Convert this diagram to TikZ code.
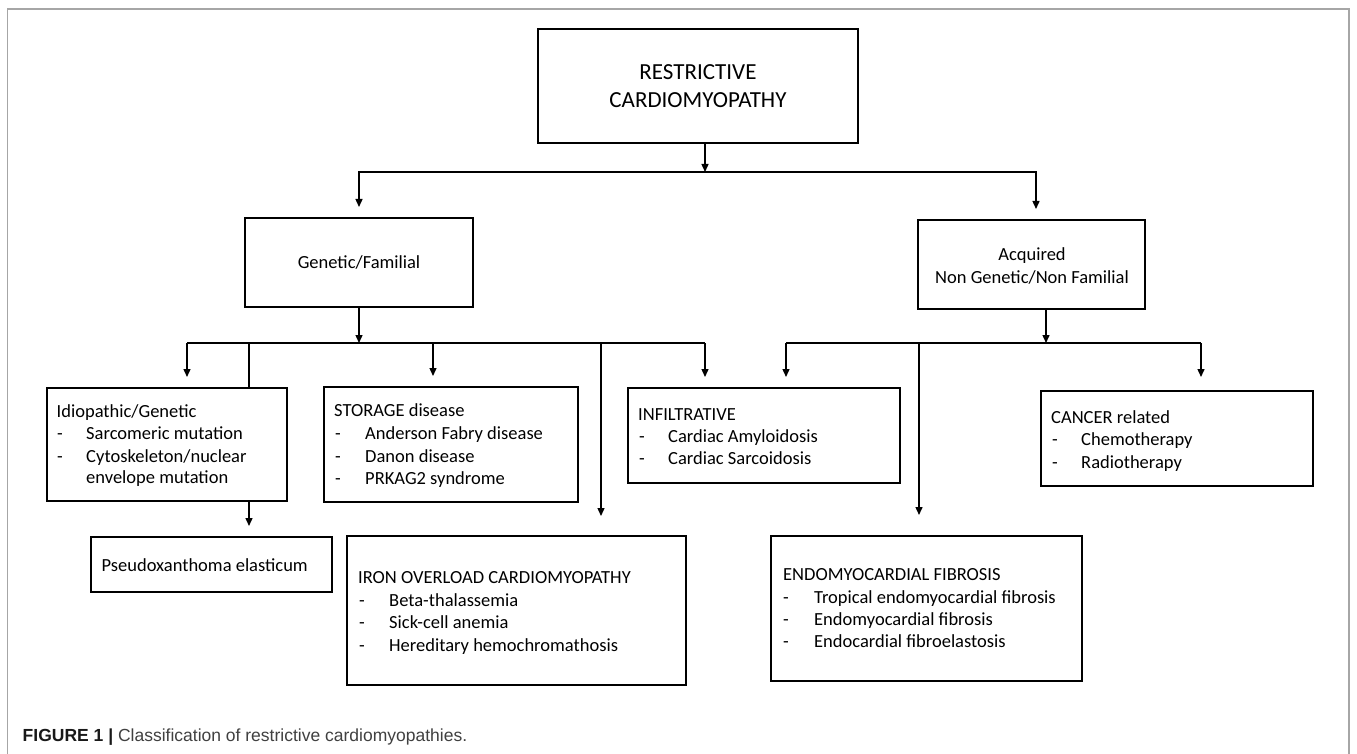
\documentclass[tikz,border=0pt]{standalone}
\usepackage{fontspec}
\setmainfont{Carlito}
\newfontfamily\capfont{Liberation Sans}
\usetikzlibrary{arrows.meta,calc}
\tikzset{
  box/.style={draw, line width=2pt, inner sep=0pt},
  conn/.style={line width=1.4pt},
  arr/.style={conn, -{Triangle[length=8pt,width=7pt]}},
  txt/.style={anchor=base west, inner sep=0pt, font=\fontsize{18.5}{22}\selectfont},
  bigtxt/.style={anchor=base, inner sep=0pt, font=\fontsize{23}{27}\selectfont},
}
\begin{document}
\begin{tikzpicture}[x=1pt,y=-1pt]
\useasboundingbox (0,0) rectangle (1357,754);
% frame
\draw[gray!70, line width=1.3pt] (7.5,754) -- (7.5,9) -- (1349,9) -- (1349,754);

% boxes
\node[box, minimum width=320pt, minimum height=114pt] (root) at (698,86) {};
\node[box, minimum width=228pt, minimum height=89pt] (gen) at (359,262.5) {};
\node[box, minimum width=227pt, minimum height=89pt] (acq) at (1031.5,264.5) {};
\node[box, minimum width=240pt, minimum height=113pt] (idio) at (166.7,444.5) {};
\node[box, minimum width=254pt, minimum height=115pt] (stor) at (451,444.5) {};
\node[box, minimum width=241pt, minimum height=55pt] (pseudo) at (211.5,564.5) {};
\node[box, minimum width=339pt, minimum height=149pt] (iron) at (516.5,610.5) {};
\node[box, minimum width=272pt, minimum height=95pt] (infil) at (764,435.5) {};
\node[box, minimum width=272pt, minimum height=95pt] (cancer) at (1177,438.5) {};
\node[box, minimum width=311pt, minimum height=145pt] (endo) at (926.5,608.5) {};

% texts
\node[bigtxt] (t-root1) at (698,80) {RESTRICTIVE};
\node[bigtxt] (t-root2) at (698,108) {CARDIOMYOPATHY};
\node[txt, anchor=base] (t-gen) at (359,268) {Genetic/Familial};
\node[txt, anchor=base] (t-acq1) at (1032,260) {Acquired};
\node[txt, anchor=base] (t-acq2) at (1032,283) {Non Genetic/Non Familial};

\node[txt] (t-idio) at (56.5,417) {Idiopathic/Genetic};
\node[txt] (d-idio1) at (57,439.5) {-};
\node[txt] (i-idio1) at (86,439.5) {Sarcomeric mutation};
\node[txt] (d-idio2) at (57,462) {-};
\node[txt] (i-idio2) at (86,462) {Cytoskeleton/nuclear};
\node[txt] (i-idio3) at (86,483.5) {envelope mutation};

\node[txt] (t-stor) at (334,416) {STORAGE disease};
\node[txt] (d-stor1) at (335,439) {-};
\node[txt] (i-stor1) at (365,439) {Anderson Fabry disease};
\node[txt] (d-stor2) at (335,462) {-};
\node[txt] (i-stor2) at (365,462) {Danon disease};
\node[txt] (d-stor3) at (335,484) {-};
\node[txt] (i-stor3) at (365,484) {PRKAG2 syndrome};

\node[txt] (t-pseudo) at (101.5,571) {Pseudoxanthoma elasticum};

\node[txt] (t-iron) at (358,583) {IRON OVERLOAD CARDIOMYOPATHY};
\node[txt] (d-iron1) at (359,606) {-};
\node[txt] (i-iron1) at (389,606) {Beta-thalassemia};
\node[txt] (d-iron2) at (359,628) {-};
\node[txt] (i-iron2) at (389,628) {Sick-cell anemia};
\node[txt] (d-iron3) at (359,651) {-};
\node[txt] (i-iron3) at (389,651) {Hereditary hemochromathosis};

\node[txt] (t-infil) at (638,420) {INFILTRATIVE};
\node[txt] (d-infil1) at (639,442) {-};
\node[txt] (i-infil1) at (668,442) {Cardiac Amyloidosis};
\node[txt] (d-infil2) at (639,464) {-};
\node[txt] (i-infil2) at (668,464) {Cardiac Sarcoidosis};

\node[txt] (t-cancer) at (1051,423) {CANCER related};
\node[txt] (d-cancer1) at (1052,445) {-};
\node[txt] (i-cancer1) at (1081,445) {Chemotherapy};
\node[txt] (d-cancer2) at (1052,468) {-};
\node[txt] (i-cancer2) at (1081,468) {Radiotherapy};

\node[txt] (t-endo) at (783,580.5) {ENDOMYOCARDIAL FIBROSIS};
\node[txt] (d-endo1) at (783,603) {-};
\node[txt] (i-endo1) at (814,603) {Tropical endomyocardial fibrosis};
\node[txt] (d-endo2) at (783,625) {-};
\node[txt] (i-endo2) at (814,625) {Endomyocardial fibrosis};
\node[txt] (d-endo3) at (783,647) {-};
\node[txt] (i-endo3) at (814,647) {Endocardial fibroelastosis};

% junctions
\coordinate (j1) at (705,172);
\coordinate (jg) at (359,343);
\coordinate (ja) at (1046,343);

% connectors
\draw[arr] (root.south -| j1) -- (j1);
\draw[conn] (gen.north |- j1) -- ([xshift=4.5pt]acq.north |- j1);
\draw[arr, shorten >=10pt] (j1) -| (gen.north);
\draw[arr, shorten >=10pt] (j1) -| ([xshift=4.5pt]acq.north);

\draw[arr] (gen.south) -- (jg);
\draw[conn] (187,343) coordinate (g1) -- (705,343) coordinate (g5);
\draw[arr, shorten >=10pt] (g1) -- (g1 |- idio.north);
\draw[conn] (249,343) coordinate (g2) -- (g2 |- idio.north);
\draw[arr, shorten >=10pt] (g2 |- idio.south) -- (g2 |- pseudo.north);
\draw[arr, shorten >=10pt] (433,343) coordinate (g3) -- (g3 |- stor.north);
\draw[arr, shorten >=19pt] (601,343) coordinate (g4) -- (g4 |- iron.north);
\draw[arr, shorten >=10pt] (g5) -- (g5 |- infil.north);

\draw[arr] (ja |- acq.south) -- (ja);
\draw[conn] (786,343) coordinate (a1) -- (1201,343) coordinate (a3);
\draw[arr, shorten >=10pt] (a1) -- (a1 |- infil.north);
\draw[arr, shorten >=20pt] (919,343) coordinate (a2) -- (a2 |- endo.north);
\draw[arr, shorten >=13pt] (a3) -- (a3 |- cancer.north);

% caption
\node[anchor=base west, inner sep=0pt, font=\capfont\fontsize{17.5}{20}\selectfont, text=black!75] (cap) at (22.5,741.5)
  {\textcolor{black!90}{\textbf{FIGURE 1 |}} Classification of restrictive cardiomyopathies.};
\end{tikzpicture}
\end{document}
